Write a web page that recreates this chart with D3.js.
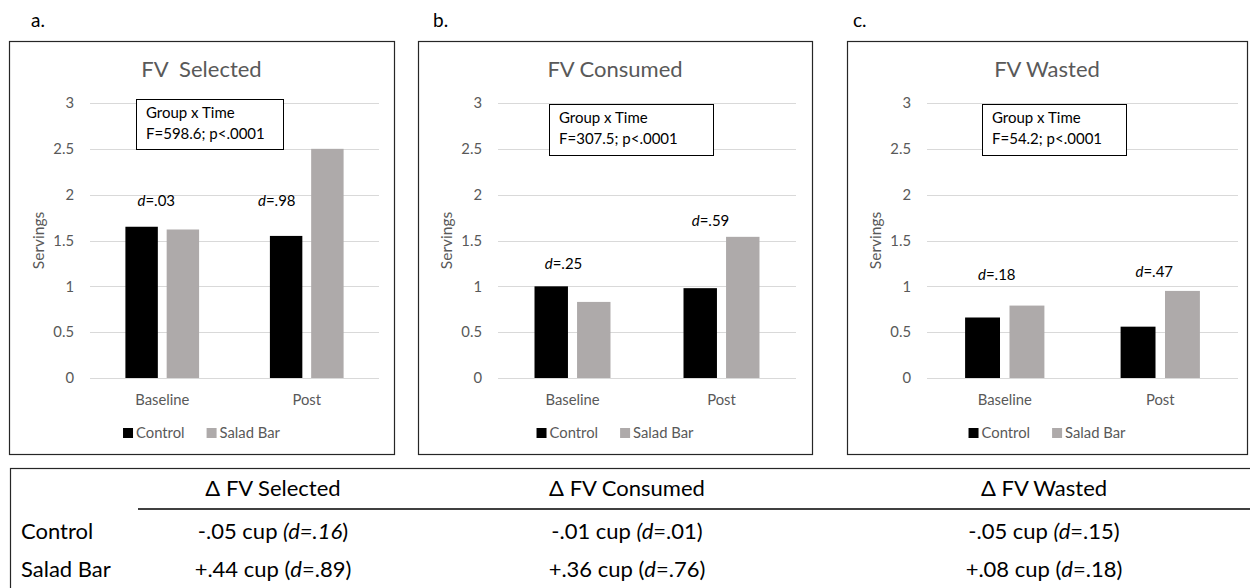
<!DOCTYPE html>
<html>
<head>
<meta charset="utf-8">
<script src="https://cdn.jsdelivr.net/npm/d3@7"></script>
<style>
  body { margin: 0; background: #fff; }
  svg { display: block; font-family: Lato, "Open Sans", sans-serif; }
</style>
</head>
<body>
<svg id="chart" width="1250" height="588"></svg>
<script>
// chart values
var groups = ["Baseline", "Post"];
var series = ["Control", "Salad Bar"];
var selectedValues = [[1.65, 1.62], [1.55, 2.50]];
var consumedValues = [[1.00, 0.83], [0.98, 1.54]];
var wastedValues = [[0.66, 0.79], [0.56, 0.95]];
var yTicks = [0, 0.5, 1, 1.5, 2, 2.5, 3];
var panelLetters = ["a.", "b.", "c."];
var panelTitles = ["FV  Selected", "FV Consumed", "FV Wasted"];
var statLines = [
    ["Group x Time", "F=598.6; p<.0001"],
    ["Group x Time", "F=307.5; p<.0001"],
    ["Group x Time", "F=54.2; p<.0001"]
];
var effectSizes = [["=.03", "=.98"], ["=.25", "=.59"], ["=.18", "=.47"]];

// summary table
var tableHeaders = ["\u0394 FV Selected", "\u0394 FV Consumed", "\u0394 FV Wasted"];
var tableRowNames = ["Control", "Salad Bar"];
var controlCells = [
    [["-.05 cup ", 0], ["(d=.16", 1], [")", 0]],
    [["-.01 cup ", 0], ["(d", 1], ["=.01)", 0]],
    [["-.05 cup ", 0], ["(d", 1], ["=.15)", 0]]
];
var saladCells = [
    [["+.44 cup (", 0], ["d", 1], ["=.89)", 0]],
    [["+.36 cup (", 0], ["d", 1], ["=.76)", 0]],
    [["+.08 cup (", 0], ["d", 1], ["=.18)", 0]]
];

var colors = {"Control": "#000000", "Salad Bar": "#aeaaaa"};
var grey = "#595959";
var small = 14.8;

// layout of the three panels
var panels = [
    {frame: [9, 394], plot: [90, 379], box: [136, 99, 147, 50], dx: [-6, -30], dy: [1.93, 1.93], letterX: 31},
    {frame: [418, 812], plot: [498, 796], box: [549, 104, 164, 51], dx: [-9, -11], dy: [1.24, 1.71], letterX: 433},
    {frame: [847, 1247], plot: [927, 1238], box: [982, 104, 144, 51], dx: [-8, -6], dy: [1.12, 1.16], letterX: 853}
];
var allValues = [selectedValues, consumedValues, wastedValues];

var svg = d3.select("#chart");

var y = d3.scaleLinear().domain([0, 3]).range([378, 103]);

panels.forEach(function(p, i) {
    var g = svg.append("g");
    var values = allValues[i];

    g.append("text")
        .attr("x", p.letterX).attr("y", 27)
        .attr("font-size", 19).attr("fill", "#000")
        .text(panelLetters[i]);

    g.append("rect")
        .attr("x", p.frame[0] + 0.5).attr("y", 41.5)
        .attr("width", p.frame[1] - p.frame[0]).attr("height", 413)
        .attr("fill", "none").attr("stroke", "#262626").attr("stroke-width", 1.2);

    var mid = (p.frame[0] + p.frame[1]) / 2;

    g.append("text")
        .attr("x", mid).attr("y", 77)
        .attr("text-anchor", "middle")
        .attr("font-size", 22).attr("fill", grey)
        .style("white-space", "pre")
        .text(panelTitles[i]);

    var x0 = d3.scaleBand().domain(groups).range(p.plot).paddingInner(0.49).paddingOuter(0.245);
    var x1 = d3.scaleBand().domain(series).range([0, x0.bandwidth()]).paddingInner(0.214);

    // gridlines
    g.append("g").selectAll("line")
        .data(yTicks)
        .enter().append("line")
        .attr("x1", p.plot[0]).attr("x2", p.plot[1])
        .attr("y1", function(d) { return Math.round(y(d)) + 0.5; })
        .attr("y2", function(d) { return Math.round(y(d)) + 0.5; })
        .attr("stroke", "#d9d9d9").attr("stroke-width", 1);

    var yAxis = g.append("g")
        .attr("transform", "translate(" + (p.plot[0] - 16) + ",0)")
        .call(d3.axisLeft(y).tickValues(yTicks).tickSize(0).tickPadding(0).tickFormat(d3.format("")));
    yAxis.select(".domain").remove();
    yAxis.selectAll("text").attr("fill", grey).attr("font-size", small).attr("font-family", "Lato, sans-serif");

    var xAxis = g.append("g")
        .attr("transform", "translate(0,378)")
        .call(d3.axisBottom(x0).tickSize(0).tickPadding(16));
    xAxis.select(".domain").remove();
    xAxis.selectAll("text").attr("fill", grey).attr("font-size", small).attr("font-family", "Lato, sans-serif");

    g.append("text")
        .attr("transform", "translate(" + (p.plot[0] - 46) + "," + y(1.5) + ") rotate(-90)")
        .attr("text-anchor", "middle")
        .attr("font-size", 15.5).attr("fill", grey)
        .text("Servings");

    // bars
    var bars = g.append("g").selectAll("g")
        .data(groups)
        .enter().append("g")
        .attr("transform", function(d) { return "translate(" + x0(d) + ",0)"; });

    bars.selectAll("rect")
        .data(function(d, gi) { return series.map(function(s, si) { return {s: s, v: values[gi][si]}; }); })
        .enter().append("rect")
        .attr("x", function(d) { return x1(d.s); })
        .attr("width", x1.bandwidth())
        .attr("y", function(d) { return y(d.v); })
        .attr("height", function(d) { return y(0) - y(d.v); })
        .attr("fill", function(d) { return colors[d.s]; });

    // effect size labels
    groups.forEach(function(gr, gi) {
        var t = g.append("text")
            .attr("x", x0(gr) + x0.bandwidth() / 2 + p.dx[gi])
            .attr("y", y(p.dy[gi]) + 5)
            .attr("text-anchor", "middle")
            .attr("font-size", 15).attr("fill", "#000");
        t.append("tspan").attr("font-style", "italic").text("d");
        t.append("tspan").text(effectSizes[i][gi]);
    });

    // statistics box
    g.append("rect")
        .attr("x", p.box[0] + 0.5).attr("y", p.box[1] + 0.5)
        .attr("width", p.box[2]).attr("height", p.box[3])
        .attr("fill", "#fff").attr("stroke", "#000").attr("stroke-width", 1);
    statLines[i].forEach(function(line, li) {
        g.append("text")
            .attr("x", p.box[0] + 10).attr("y", p.box[1] + 19 + li * 21)
            .attr("font-size", 15).attr("fill", "#000")
            .text(line);
    });

    // legend
    var legend = g.append("g");
    var lx = 0;
    series.forEach(function(s) {
        legend.append("rect")
            .attr("x", lx).attr("y", -5).attr("width", 10).attr("height", 10)
            .attr("fill", colors[s]);
        var lt = legend.append("text")
            .attr("x", lx + 13).attr("y", 5)
            .attr("font-size", small).attr("fill", grey)
            .text(s);
        lx += 13 + lt.node().getComputedTextLength() + 22;
    });
    var lw = lx - 22;
    legend.attr("transform", "translate(" + (mid - lw / 2) + ",433)");
});

// table
var tg = svg.append("g");
tg.append("rect")
    .attr("x", 10.5).attr("y", 468.5).attr("width", 1260).attr("height", 200)
    .attr("fill", "none").attr("stroke", "#262626").attr("stroke-width", 1.2);
tg.append("line")
    .attr("x1", 138).attr("x2", 1250).attr("y1", 509).attr("y2", 509)
    .attr("stroke", "#000").attr("stroke-width", 1.5);

var colCenters = [273, 627, 1044];

tableHeaders.forEach(function(h, ci) {
    tg.append("text")
        .attr("x", colCenters[ci]).attr("y", 496)
        .attr("text-anchor", "middle")
        .attr("font-size", 22).attr("fill", "#000")
        .text(h);
});

[controlCells, saladCells].forEach(function(row, ri) {
    var ry = ri === 0 ? 539 : 577;
    tg.append("text")
        .attr("x", 21).attr("y", ry)
        .attr("font-size", 22).attr("fill", "#000")
        .text(tableRowNames[ri]);
    row.forEach(function(cell, ci) {
        var t = tg.append("text")
            .attr("x", colCenters[ci]).attr("y", ry)
            .attr("text-anchor", "middle")
            .attr("font-size", 22).attr("fill", "#000")
            .style("white-space", "pre");
        cell.forEach(function(seg) {
            t.append("tspan")
                .attr("font-style", seg[1] ? "italic" : "normal")
                .text(seg[0]);
        });
    });
});
</script>
</body>
</html>
